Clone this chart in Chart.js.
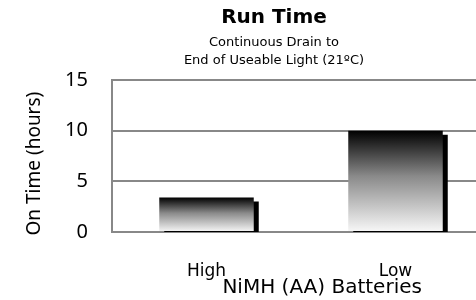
<!DOCTYPE html>
<html>
<head>
<meta charset="utf-8">
<script src="https://cdn.jsdelivr.net/npm/chart.js@4"></script>
<style>
  html, body { margin: 0; padding: 0; background: #fff; overflow: hidden; }
  #wrap { width: 548px; height: 300px; }
</style>
</head>
<body>
<div id="wrap"><canvas id="myChart" width="548" height="300"></canvas></div>
<script>
'use strict'
// data
const categories = ["High", "Low"]
const runTimes = [3.4, 10]
const yTicks = [0, 5, 10, 15]

const titleText = "Run Time"
const subtitleLines = ["Continuous Drain to", "End of Useable Light (21ºC)"]
const xTitle = "NiMH (AA) Batteries"
const yTitle = "On Time (hours)"

function barGradient(context) {
    const chart = context.chart
    const area = chart.chartArea
    if (!area) return "#888"
    const y = chart.scales.y
    const top = y.getPixelForValue(context.raw)
    const base = y.getPixelForValue(0)
    const g = chart.ctx.createLinearGradient(0, top, 0, base)
    g.addColorStop(0, "#000000")
    g.addColorStop(0.45, "#8a8a8a")
    g.addColorStop(1, "#f8f8f8")
    return g
}

// hard black drop shadow behind bars
const shadowPlugin = {
    id: "shadow",
    beforeDatasetsDraw(chart) {
        const ctx = chart.ctx
        ctx.save()
        ctx.shadowColor = "#000"
        ctx.shadowOffsetX = 5
        ctx.shadowOffsetY = 4
        ctx.shadowBlur = 0
    },
    afterDatasetsDraw(chart) {
        chart.ctx.restore()
    }
}

// axis titles sit a bit off-centre in the original, so draw them by hand
const axisTitlePlugin = {
    id: "axisTitles",
    afterDraw(chart) {
        const ctx = chart.ctx
        const a = chart.chartArea
        ctx.save()
        ctx.fillStyle = "#000"
        ctx.textAlign = "center"
        ctx.textBaseline = "middle"
        ctx.font = "20px 'DejaVu Sans'"
        ctx.fillText(xTitle, a.left + (a.right - a.left) * 0.556, 288)
        ctx.translate(35, a.top + (a.bottom - a.top) * 0.55)
        ctx.rotate(-Math.PI / 2)
        ctx.font = "19px 'Noto Sans'"
        ctx.fillText(yTitle, 0, 0)
        ctx.restore()
    }
}

const config = {
    type: "bar",
    data: {
        labels: categories,
        datasets: [{
            data: runTimes,
            backgroundColor: barGradient,
            borderWidth: 0,
            categoryPercentage: 0.5,
            barPercentage: 1
        }]
    },
    options: {
        responsive: false,
        animation: false,
        devicePixelRatio: 1,
        layout: { padding: 0 },
        plugins: {
            legend: { display: false },
            tooltip: { enabled: false },
            title: {
                display: true,
                text: titleText,
                color: "#000",
                font: { family: "'DejaVu Sans'", size: 20, weight: "bold", lineHeight: 22 / 20 },
                padding: { top: 7, bottom: 0 }
            },
            subtitle: {
                display: true,
                text: subtitleLines,
                color: "#000",
                font: { family: "'DejaVu Sans'", size: 13, lineHeight: 18 / 13 },
                padding: { top: 5, bottom: 10 }
            }
        },
        scales: {
            x: {
                z: 1,
                grid: { display: false, drawTicks: false },
                border: { display: true, color: "#888", width: 2 },
                ticks: {
                    color: "#000",
                    font: { family: "'DejaVu Sans'", size: 17 },
                    padding: 29
                },
                afterFit(s) { s.height = 68 }
            },
            y: {
                min: 0,
                max: 15,
                afterBuildTicks(s) { s.ticks = yTicks.map(v => ({ value: v })) },
                grid: { color: "#888", lineWidth: 2, drawTicks: false },
                border: { display: true, color: "#888", width: 2 },
                ticks: {
                    color: "#000",
                    font: { family: "'Noto Sans'", size: 20 },
                    padding: 24
                },
                afterFit(s) { s.width = 112 }
            },
            // empty strip on the right, the part of the original cut off by the crop
            yRight: {
                position: "right",
                grid: { display: false, drawTicks: false },
                border: { display: false },
                ticks: { display: false },
                afterFit(s) { s.width = 58 }
            }
        }
    },
    plugins: [shadowPlugin, axisTitlePlugin]
}

const myChart = new Chart(document.getElementById("myChart"), config)
</script>
</body>
</html>
